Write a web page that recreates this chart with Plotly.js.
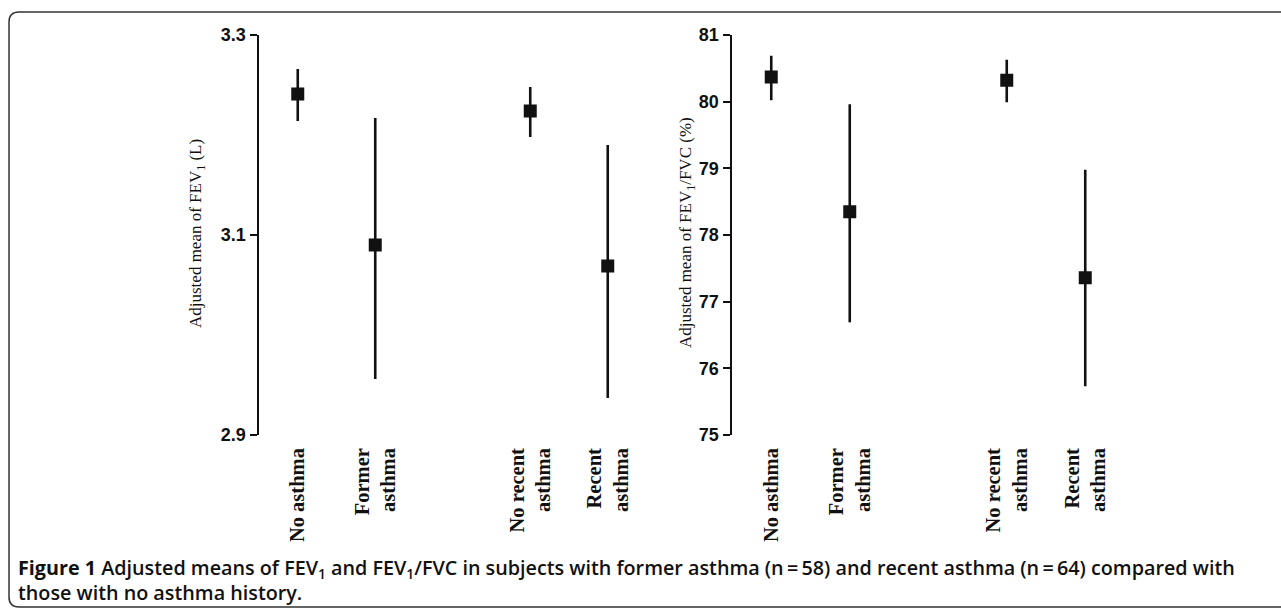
<!DOCTYPE html>
<html>
<head>
<meta charset="utf-8">
<script src="https://cdn.plot.ly/plotly-3.0.1.min.js"></script>
<style>html,body{margin:0;padding:0;background:#fff;}#chart{width:1281px;height:611px;}</style>
</head>
<body>
<div id="chart"></div>
<script>
// Categories (a blank slot separates the two comparisons)
const categories = ["No asthma", "Former asthma", "No recent asthma", "Recent asthma"];
const categoryLabels = ["No asthma", "Former<br>asthma", "No recent<br>asthma", "Recent<br>asthma"];
const spacer = " ";

// Adjusted mean FEV1 (L) with 95% CI
const fev1Mean  = [3.241, 3.090, 3.224, 3.069];
const fev1Lower = [3.214, 2.956, 3.198, 2.937];
const fev1Upper = [3.266, 3.217, 3.248, 3.190];

// Adjusted mean FEV1/FVC (%) with 95% CI
const ratioMean  = [80.37, 78.35, 80.32, 77.36];
const ratioLower = [80.02, 76.69, 79.99, 75.73];
const ratioUpper = [80.69, 79.96, 80.63, 78.98];

const fev1Ticks = [2.9, 3.1, 3.3];
const ratioTicks = [75, 76, 77, 78, 79, 80, 81];

const W = 1281, H = 611;
const px = v => v / W;
const py = v => 1 - v / H;

const slotOrder = [categories[0], categories[1], spacer, categories[2], categories[3]];
const slotText  = [categoryLabels[0], categoryLabels[1], "", categoryLabels[2], categoryLabels[3]];

function trace(mean, lower, upper, xa, ya) {
  return {
    type: "scatter", mode: "markers",
    x: categories, y: mean, xaxis: xa, yaxis: ya,
    marker: {symbol: "square", size: 13, color: "#111"},
    error_y: {
      type: "data", symmetric: false,
      array: upper.map((u, i) => u - mean[i]),
      arrayminus: lower.map((l, i) => mean[i] - l),
      thickness: 2.6, width: 0, color: "#111"
    },
    showlegend: false, hoverinfo: "x+y"
  };
}

const xCommon = {
  type: "category", categoryorder: "array", categoryarray: slotOrder,
  tickmode: "array", tickvals: slotOrder, ticktext: slotText,
  range: [-0.5, 4.5], showline: false, showgrid: false, zeroline: false,
  ticks: "", tickangle: -90, ticklabelstandoff: 8,
  tickfont: {family: "Liberation Serif, Times New Roman, serif", size: 20.5, color: "#111", weight: "bold"}
};
const yCommon = {
  showline: true, linewidth: 2.5, linecolor: "#111", showgrid: false, zeroline: false,
  ticks: "outside", ticklen: 7, tickwidth: 2, tickcolor: "#111",
  tickfont: {family: "Liberation Sans, Arial, sans-serif", size: 18, color: "#111", weight: "bold"},
  domain: [py(435), py(35)]
};

const layout = {
  width: W, height: H,
  margin: {l: 0, r: 0, t: 0, b: 0},
  paper_bgcolor: "#fff", plot_bgcolor: "rgba(0,0,0,0)",
  xaxis: Object.assign({}, xCommon, {domain: [px(259), px(646.5)], anchor: "y"}),
  yaxis: Object.assign({}, yCommon, {anchor: "x", range: [2.9, 3.3], tickmode: "array", tickvals: fev1Ticks, ticktext: fev1Ticks.map(v => v.toFixed(1))}),
  xaxis2: Object.assign({}, xCommon, {domain: [px(732), px(1124.5)], anchor: "y2"}),
  yaxis2: Object.assign({}, yCommon, {anchor: "x2", range: [75, 81], tickmode: "array", tickvals: ratioTicks}),
  annotations: [
    {xref: "paper", yref: "paper", x: px(197), y: py(234), textangle: -90, showarrow: false,
     text: "Adjusted mean of FEV<sub>1</sub> (L)", xanchor: "center", yanchor: "middle",
     font: {family: "Liberation Serif, Times New Roman, serif", size: 17, color: "#111"}},
    {xref: "paper", yref: "paper", x: px(687), y: py(233), textangle: -90, showarrow: false,
     text: "Adjusted mean of FEV<sub>1</sub>/FVC (%)", xanchor: "center", yanchor: "middle",
     font: {family: "Liberation Serif, Times New Roman, serif", size: 17, color: "#111"}},
    {xref: "paper", yref: "paper", x: px(16), y: py(568), xanchor: "left", yanchor: "middle", showarrow: false, align: "left",
     text: "<b>Figure 1</b> Adjusted means of FEV<sub>1</sub> and FEV<sub>1</sub>/FVC in subjects with former asthma (n\u2009=\u200958) and recent asthma (n\u2009=\u200964) compared with",
     font: {family: "Open Sans, sans-serif", size: 19.75, color: "#111", weight: 600}},
    {xref: "paper", yref: "paper", x: px(16), y: py(592), xanchor: "left", yanchor: "middle", showarrow: false, align: "left",
     text: "those with no asthma history.",
     font: {family: "Open Sans, sans-serif", size: 19.75, color: "#111", weight: 600}}
  ],
  shapes: [
    {type: "path", xref: "paper", yref: "paper",
     path: `M ${px(1295)},${py(12)} L ${px(19)},${py(12)} Q ${px(9)},${py(12)} ${px(9)},${py(22)} L ${px(9)},${py(597)} Q ${px(9)},${py(607)} ${px(19)},${py(607)} L ${px(1295)},${py(607)}`,
     line: {color: "#333", width: 1.5}}
  ]
};

Plotly.newPlot("chart", [
  trace(fev1Mean, fev1Lower, fev1Upper, "x", "y"),
  trace(ratioMean, ratioLower, ratioUpper, "x2", "y2")
], layout, {displayModeBar: false, staticPlot: true});
</script>
</body>
</html>
